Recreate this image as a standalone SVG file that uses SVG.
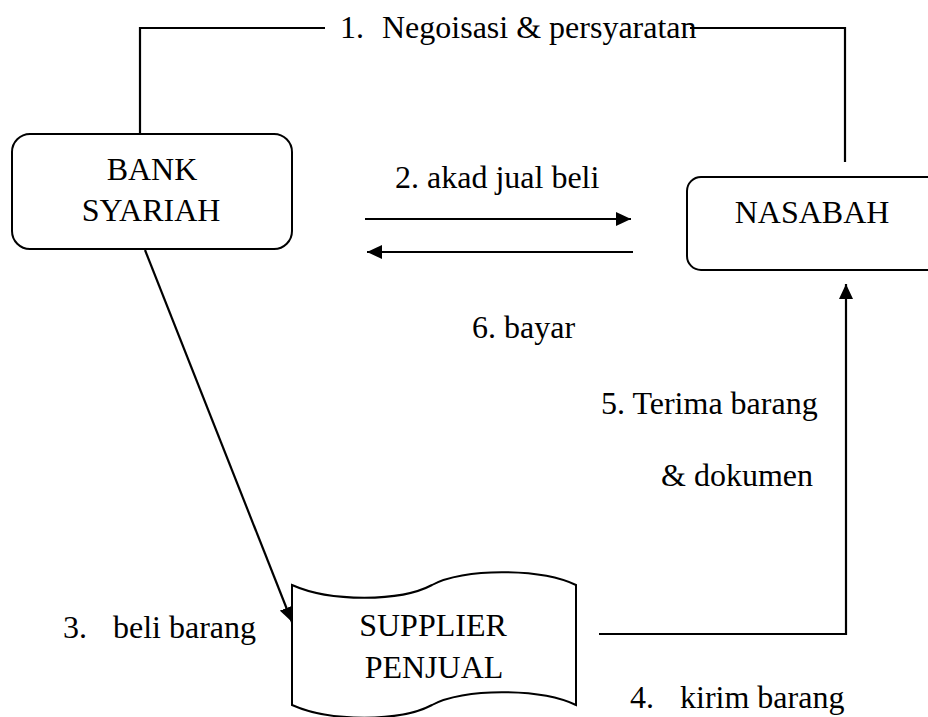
<svg xmlns="http://www.w3.org/2000/svg" width="928" height="717" viewBox="0 0 928 717">
<style>
text{font-family:"Liberation Serif","Times New Roman",serif;font-size:32px;fill:#000}
.c{text-anchor:middle}
.box{fill:#fff;stroke:#000;stroke-width:2}
.ln{fill:none;stroke:#000;stroke-width:2.2}
</style>
<defs>
<marker id="ah" markerUnits="userSpaceOnUse" markerWidth="16" markerHeight="14" refX="15" refY="7" orient="auto">
<path d="M0,0 L15,7 L0,14 z" fill="#000"/>
</marker>
</defs>
<rect width="928" height="717" fill="#fff"/>
<g id="connectors">
<path class="ln" d="M140,141 V28 H325"/>
<path class="ln" d="M690,28 H845 V162"/>
<line class="ln" x1="365" y1="219" x2="631" y2="219" marker-end="url(#ah)"/>
<line class="ln" x1="633" y1="252" x2="367" y2="252" marker-end="url(#ah)"/>
<line class="ln" x1="145" y1="250" x2="292" y2="622" marker-end="url(#ah)"/>
<path class="ln" d="M599,634 H846 V284" marker-end="url(#ah)"/>
</g>
<g id="bank">
<rect class="box" x="12" y="134" width="280" height="115" rx="18"/>
<text class="c" x="152" y="180">BANK</text>
<text class="c" x="151" y="221">SYARIAH</text>
</g>
<g id="nasabah">
<rect class="box" x="687" y="177" width="260" height="93" rx="14"/>
<text class="c" x="812" y="223">NASABAH</text>
</g>
<g id="supplier">
<path class="box" d="M292,585 C330,602 400,602 432,585 C462,568 540,568 576,585 V705 C540,688 462,688 432,705 C400,722 330,722 292,705 Z"/>
<text class="c" x="433" y="636">SUPPLIER</text>
<text class="c" x="434" y="678">PENJUAL</text>
</g>
<g id="labels">
<text x="340" y="38">1.</text>
<text x="382" y="38">Negoisasi &amp; persyaratan</text>
<text x="395" y="188">2. akad jual beli</text>
<text x="472" y="338">6. bayar</text>
<text x="601" y="414">5. Terima barang</text>
<text x="661" y="486">&amp; dokumen</text>
<text x="63" y="638">3.</text>
<text x="113" y="638">beli barang</text>
<text x="630" y="708">4.</text>
<text x="680" y="708">kirim barang</text>
</g>
</svg>
